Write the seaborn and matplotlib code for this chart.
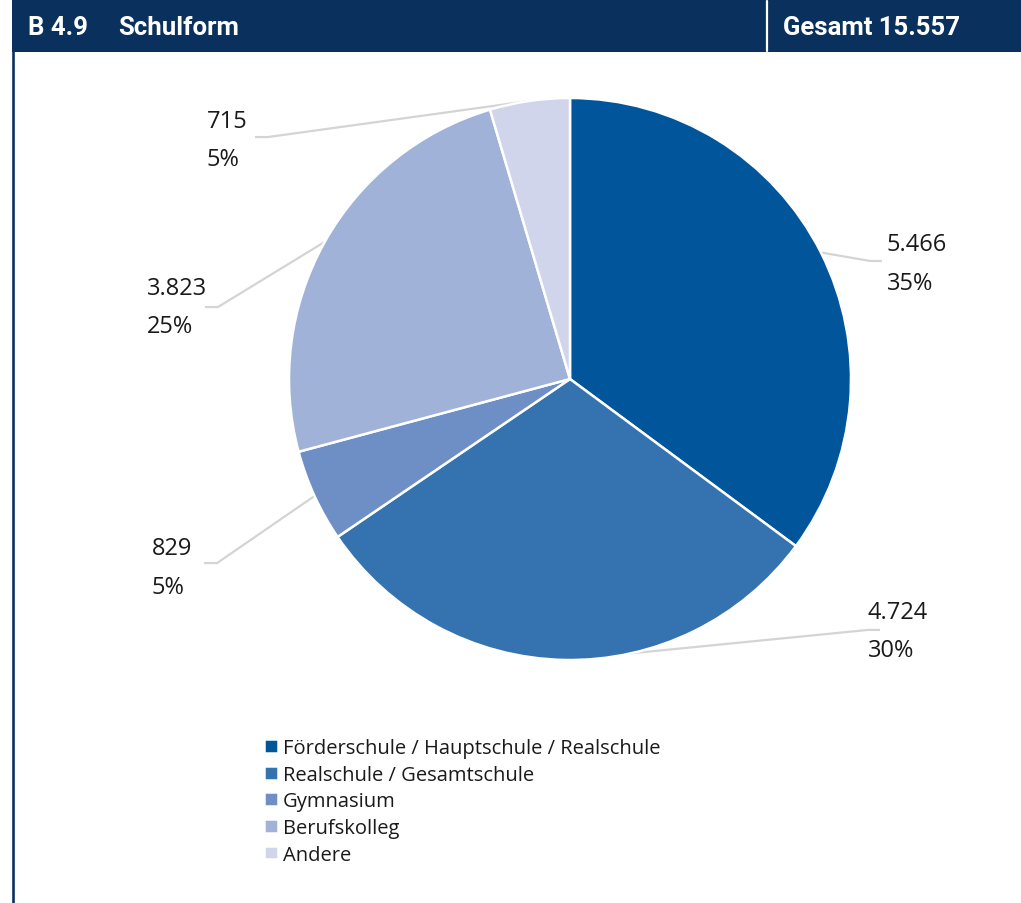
import matplotlib
matplotlib.use("Agg")
import matplotlib.pyplot as plt
from matplotlib.patches import Rectangle
from matplotlib.lines import Line2D
import numpy as np
import pandas as pd
import seaborn as sns

# ---- data -------------------------------------------------------------
categories = [
    "Förderschule / Hauptschule / Realschule",
    "Realschule / Gesamtschule",
    "Gymnasium",
    "Berufskolleg",
    "Andere",
]
counts = [5466, 4724, 829, 3823, 715]
slice_colors = ["#00559b", "#3572b0", "#6d8fc6", "#a1b2d9", "#d0d5eb"]

chart_id = "B 4.9"
chart_title = "Schulform"

df = pd.DataFrame({"Schulform": categories, "Anzahl": counts})
total = int(df["Anzahl"].sum())


def de_int(v):
    return f"{int(v):,}".replace(",", ".")


# ---- style -----------------------------------------------------------
sns.set_theme(style="white")
plt.rcParams["font.family"] = ["Open Sans", "DejaVu Sans"]

W, H = 1021, 904
fig = plt.figure(figsize=(W / 100, H / 100), dpi=100)
fig.patch.set_facecolor("white")

NAVY = "#0a305e"


def fx(px):
    return px / W


def fy(py):
    return 1 - py / H


# header bar
fig.patches.append(Rectangle((fx(12), fy(53)), 1, 53 / H, transform=fig.transFigure,
                             facecolor=NAVY, edgecolor="none", zorder=0))
fig.lines.append(Line2D([fx(767), fx(767)], [fy(2), fy(52)], transform=fig.transFigure,
                        color="white", lw=1.6))
fig.lines.append(Line2D([fx(13.3), fx(13.3)], [0, fy(53)], transform=fig.transFigure,
                        color=NAVY, lw=1.9))
hdr_kw = dict(color="white", fontsize=18.5, fontweight="bold", va="center", ha="left",
              family=["Roboto", "DejaVu Sans"])
fig.text(fx(28), fy(28), chart_id, **hdr_kw)
fig.text(fx(118), fy(28), chart_title, **hdr_kw)
fig.text(fx(783), fy(28), f"Gesamt {de_int(total)}", **hdr_kw)

# ---- pie -------------------------------------------------------------
cx, cy, R = 570, 380, 281
ax = fig.add_axes([fx(cx - R), 1 - (cy + R) / H, 2 * R / W, 2 * R / H])
wedges, _ = ax.pie(df["Anzahl"], colors=slice_colors, startangle=90, counterclock=False,
                   radius=1, wedgeprops=dict(edgecolor="white", linewidth=1.8))
ax.set_xlim(-1, 1)
ax.set_ylim(-1, 1)
ax.axis("off")

# leader line elbows / ends and label anchors (pie units, radius = 1)
elbows = [(1.068, 0.420), (1.060, -0.893), (-1.256, -0.655), (-1.253, 0.256), (-1.075, 0.861)]
ends = [(1.110, 0.420), (1.103, -0.893), (-1.302, -0.655), (-1.299, 0.256), (-1.121, 0.861)]
label_pos = [(1.128, 0.411), (1.060, -0.897), (-1.488, -0.671), (-1.505, 0.256), (-1.292, 0.851)]
dy = 0.0685

for w, (ex, ey), (tx, ty), (lx, ly), v in zip(wedges, elbows, ends, label_pos, df["Anzahl"]):
    mid = np.deg2rad((w.theta1 + w.theta2) / 2)
    px, py = np.cos(mid), np.sin(mid)
    ax.plot([px, ex, tx], [py, ey, ty], color="#d4d4d4", lw=1.6, clip_on=False, zorder=0,
            solid_capstyle="butt")
    pct = round(v / total * 100)
    ax.text(lx, ly + dy, de_int(v), ha="left", va="center", fontsize=17, color="#1a1a1a",
            clip_on=False)
    ax.text(lx, ly - dy, f"{pct}%", ha="left", va="center", fontsize=17, color="#1a1a1a",
            clip_on=False)

# ---- legend ----------------------------------------------------------
fig.legend(handles=wedges, labels=categories, loc="upper left",
           bbox_to_anchor=(fx(264), fy(739)), frameon=False, fontsize=14.5,
           handlelength=0.68, handleheight=0.68, handletextpad=0.25, labelspacing=0.33,
           borderpad=0, borderaxespad=0, labelcolor="#1a1a1a")

fig.savefig("out.png", dpi=100, facecolor="white")
